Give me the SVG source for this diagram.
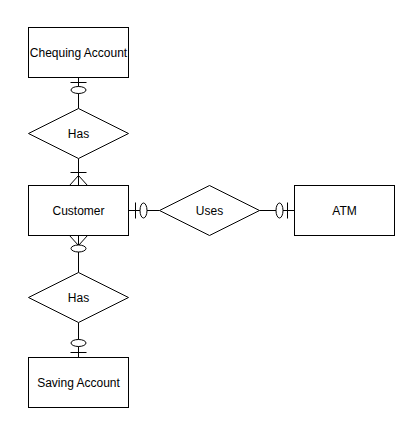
<svg xmlns="http://www.w3.org/2000/svg" width="420" height="434" viewBox="0 0 420 434">
<style>
.n{fill:#fff;stroke:#000;stroke-width:1}
.t{font-family:"Liberation Sans",Arial,sans-serif;font-size:12px;fill:#000;text-anchor:middle;dominant-baseline:central}
.c{fill:none;stroke:#000;stroke-width:1}
.o{fill:#fff;stroke:#000;stroke-width:1}
</style>
<rect width="420" height="434" fill="#fff"/>
<g id="connectors">
  <path class="c" d="M78.5 77.5V108.5M70.5 82.5H86.5"/>
  <ellipse class="o" cx="78.5" cy="90" rx="7.5" ry="3.5"/>
  <path class="c" d="M78.5 158.5V185.5M70.5 172.5H86.5M69.5 185.5L78.5 175.5L87.5 185.5"/>
  <path class="c" d="M78.5 235.5V272.5M69.5 235.5L78.5 245.5L87.5 235.5"/>
  <ellipse class="o" cx="78.5" cy="248.5" rx="7.5" ry="3.5"/>
  <path class="c" d="M78.5 322.5V357.5M70.5 352.5H86.5"/>
  <ellipse class="o" cx="78.5" cy="343" rx="7.5" ry="3.5"/>
  <path class="c" d="M128.5 210.5H159.5M135.5 202.5V218.5"/>
  <ellipse class="o" cx="143.5" cy="210.5" rx="3.5" ry="7.5"/>
  <path class="c" d="M259.5 210.5H294.5M287.5 202.5V218.5"/>
  <ellipse class="o" cx="279.5" cy="210.5" rx="3.5" ry="7.5"/>
</g>
<g id="chequing">
  <rect class="n" x="28.5" y="27.5" width="100" height="50"/>
  <text class="t" x="78.5" y="52.5">Chequing Account</text>
</g>
<g id="has1">
  <polygon class="n" points="78.5,108.5 128.5,133.5 78.5,158.5 28.5,133.5"/>
  <text class="t" x="78.5" y="133.5">Has</text>
</g>
<g id="customer">
  <rect class="n" x="28.5" y="185.5" width="100" height="50"/>
  <text class="t" x="78.5" y="210.5">Customer</text>
</g>
<g id="uses">
  <polygon class="n" points="209.5,185.5 259.5,210.5 209.5,235.5 159.5,210.5"/>
  <text class="t" x="209.5" y="210.5">Uses</text>
</g>
<g id="atm">
  <rect class="n" x="294.5" y="185.5" width="100" height="50"/>
  <text class="t" x="344.5" y="210.5">ATM</text>
</g>
<g id="has2">
  <polygon class="n" points="78.5,272.5 128.5,297.5 78.5,322.5 28.5,297.5"/>
  <text class="t" x="78.5" y="297.5">Has</text>
</g>
<g id="saving">
  <rect class="n" x="28.5" y="357.5" width="100" height="50"/>
  <text class="t" x="78.5" y="382.5">Saving Account</text>
</g>
</svg>
